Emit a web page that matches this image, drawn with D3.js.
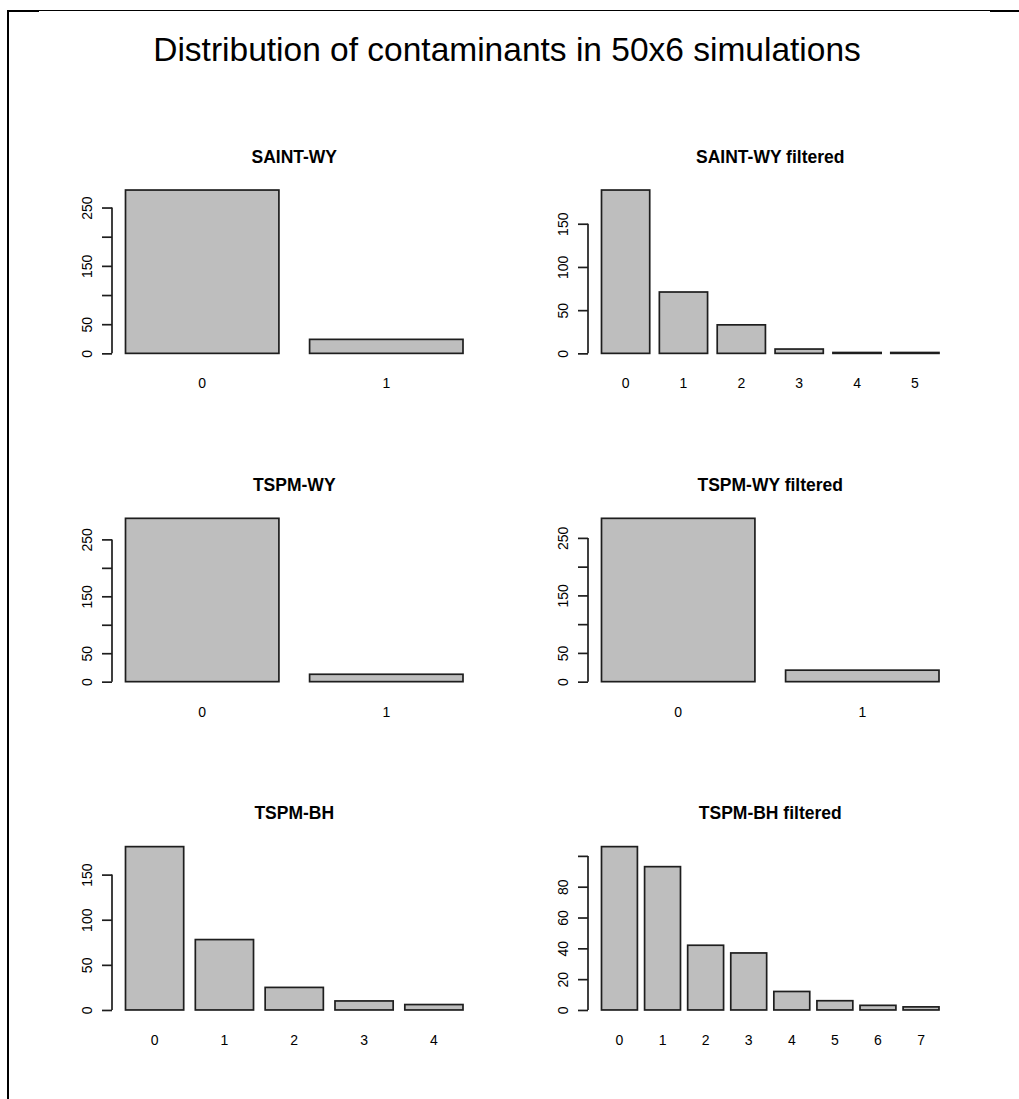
<!DOCTYPE html>
<html>
<head>
<meta charset="utf-8">
<script src="https://cdn.jsdelivr.net/npm/d3@7"></script>
<style>
  html, body { margin: 0; padding: 0; background: #fff; }
  svg { display: block; }
</style>
</head>
<body>
<svg id="chart" width="1019" height="1099"></svg>
<script>
// Number of contaminants per simulation run, tallied for each method
const panelTitles = ["SAINT-WY", "SAINT-WY filtered", "TSPM-WY", "TSPM-WY filtered", "TSPM-BH", "TSPM-BH filtered"];

const saintWYCategories = ["0", "1"];
const saintWYCounts = [280, 24];

const saintWYFilteredCategories = ["0", "1", "2", "3", "4", "5"];
const saintWYFilteredCounts = [189, 71, 33, 5, 1, 1];

const tspmWYCategories = ["0", "1"];
const tspmWYCounts = [287, 13];

const tspmWYFilteredCategories = ["0", "1"];
const tspmWYFilteredCounts = [284, 20];

const tspmBHCategories = ["0", "1", "2", "3", "4"];
const tspmBHCounts = [181, 78, 25, 10, 6];

const tspmBHFilteredCategories = ["0", "1", "2", "3", "4", "5", "6", "7"];
const tspmBHFilteredCounts = [106, 93, 42, 37, 12, 6, 3, 2];

// y-axis ticks; empty labels are ticks whose label would collide with a neighbour
const ticks250 = [0, 50, 100, 150, 200, 250];
const ticks250Labels = ["0", "50", "", "150", "", "250"];
const ticks150 = [0, 50, 100, 150];
const ticks150Labels = ["0", "50", "100", "150"];
const ticks100 = [0, 20, 40, 60, 80, 100];
const ticks100Labels = ["0", "20", "40", "60", "80", ""];

const mainTitle = "Distribution of contaminants in 50x6 simulations";

const panels = [
  { title: panelTitles[0], cats: saintWYCategories, vals: saintWYCounts, ticks: ticks250, labels: ticks250Labels },
  { title: panelTitles[1], cats: saintWYFilteredCategories, vals: saintWYFilteredCounts, ticks: ticks150, labels: ticks150Labels },
  { title: panelTitles[2], cats: tspmWYCategories, vals: tspmWYCounts, ticks: ticks250, labels: ticks250Labels },
  { title: panelTitles[3], cats: tspmWYFilteredCategories, vals: tspmWYFilteredCounts, ticks: ticks250, labels: ticks250Labels },
  { title: panelTitles[4], cats: tspmBHCategories, vals: tspmBHCounts, ticks: ticks150, labels: ticks150Labels },
  { title: panelTitles[5], cats: tspmBHFilteredCategories, vals: tspmBHFilteredCounts, ticks: ticks100, labels: ticks100Labels }
];

const FONT = "'Liberation Sans', Arial, Helvetica, sans-serif";
const svg = d3.select("#chart");

// page frame
const frame = svg.append("g").attr("stroke", "#000").attr("fill", "none");
frame.append("line").attr("x1", 7).attr("x2", 1019).attr("y1", 10.5).attr("y2", 10.5).attr("stroke-width", 1);
frame.append("line").attr("x1", 7).attr("x2", 39).attr("y1", 11).attr("y2", 11).attr("stroke-width", 2);
frame.append("line").attr("x1", 990).attr("x2", 1019).attr("y1", 11).attr("y2", 11).attr("stroke-width", 2);
frame.append("line").attr("x1", 8).attr("x2", 8).attr("y1", 10).attr("y2", 1099).attr("stroke-width", 2);

// overall title
svg.append("text")
  .attr("x", 507).attr("y", 60.5)
  .attr("text-anchor", "middle")
  .attr("font-family", FONT).attr("font-size", 33.5)
  .attr("fill", "#000")
  .text(mainTitle);

// layout of the 3 x 2 grid of plot regions
const colX = [112, 588];
const plotW = 364.5;
const rowTop = 183.5;
const rowStep = 328.3;
const plotH = 176.4;
const barSpace = 0.2;

panels.forEach((p, i) => {
  const col = i % 2, row = Math.floor(i / 2);
  const x0 = colX[col];
  const yT = rowTop + row * rowStep;
  const yB = yT + plotH;
  const g = svg.append("g");

  const n = p.vals.length;
  const span = n * (1 + barSpace) - barSpace;
  const x = d3.scaleLinear()
    .domain([barSpace - 0.04 * span, barSpace + span * 1.04])
    .range([x0, x0 + plotW]);
  const maxV = d3.max(p.vals);
  const y = d3.scaleLinear()
    .domain([-0.04 * maxV, 1.04 * maxV])
    .range([yB, yT]);

  // bars
  g.selectAll("rect.bar")
    .data(p.vals)
    .join("rect")
    .attr("class", "bar")
    .attr("x", (d, k) => x(barSpace + k * (1 + barSpace)))
    .attr("width", (d, k) => x(barSpace + k * (1 + barSpace) + 1) - x(barSpace + k * (1 + barSpace)))
    .attr("y", d => y(d))
    .attr("height", d => y(0) - y(d))
    .attr("fill", "#bebebe")
    .attr("stroke", "#1e1e1e")
    .attr("stroke-width", 1.7);

  // category labels under each bar
  g.selectAll("text.cat")
    .data(p.cats)
    .join("text")
    .attr("class", "cat")
    .attr("x", (d, k) => x(barSpace + k * (1 + barSpace) + 0.5))
    .attr("y", yB + 28.4)
    .attr("text-anchor", "middle")
    .attr("font-family", FONT).attr("font-size", 14)
    .attr("fill", "#000")
    .text(d => d);

  // y axis
  const ax = g.append("g")
    .attr("transform", `translate(${x0},0)`)
    .call(d3.axisLeft(y)
      .tickValues(p.ticks)
      .tickFormat((d, k) => p.labels[k])
      .tickSize(10)
      .tickSizeOuter(0));
  ax.select(".domain").remove();
  ax.append("line")
    .attr("x1", 0).attr("x2", 0)
    .attr("y1", y(p.ticks[0])).attr("y2", y(p.ticks[p.ticks.length - 1]))
    .attr("stroke", "#1e1e1e").attr("stroke-width", 1.7);
  ax.selectAll(".tick line").attr("stroke", "#1e1e1e").attr("stroke-width", 1.7);
  ax.selectAll(".tick text")
    .attr("x", null).attr("dy", null)
    .attr("transform", "translate(-20.3,0) rotate(-90)")
    .attr("text-anchor", "middle")
    .attr("font-family", FONT).attr("font-size", 14)
    .attr("fill", "#000");
  ax.attr("font-family", null).attr("font-size", null);

  // panel title
  g.append("text")
    .attr("x", x0 + plotW / 2)
    .attr("y", 162.7 + row * rowStep)
    .attr("text-anchor", "middle")
    .attr("font-family", FONT).attr("font-size", 17.5).attr("font-weight", "bold")
    .attr("fill", "#000")
    .text(p.title);
});
</script>
</body>
</html>
